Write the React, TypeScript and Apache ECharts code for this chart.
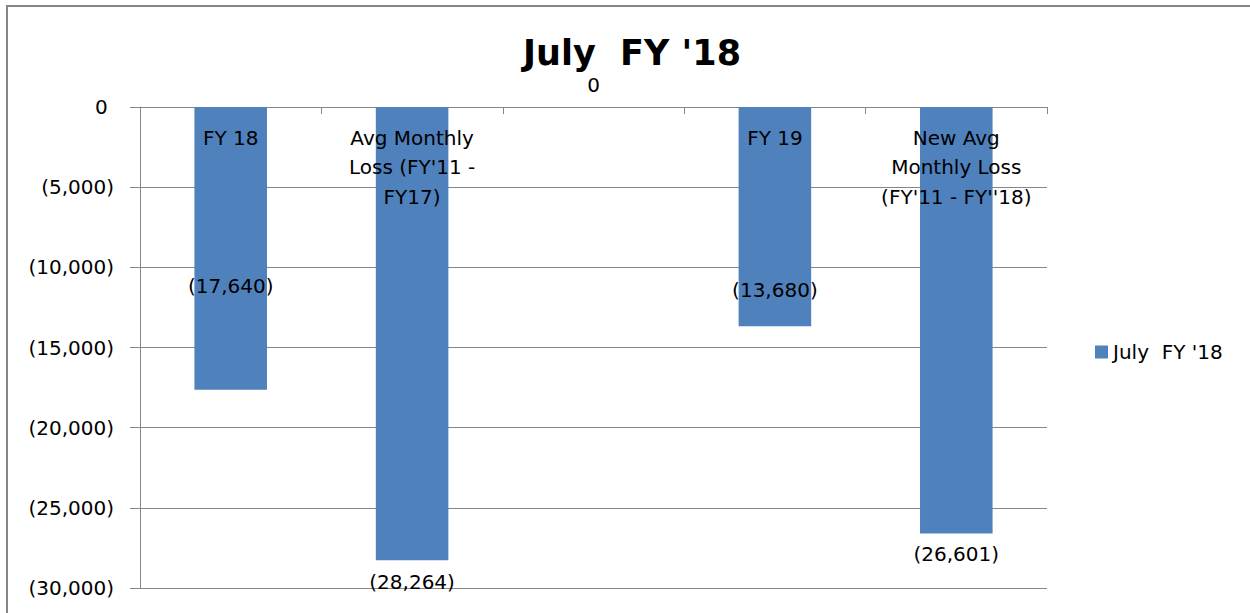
import React, { useEffect, useRef } from "react";
import * as echarts from "echarts";

const seriesName = "July  FY '18";
const categories = ["FY 18", "Avg Monthly\nLoss (FY'11 -\nFY17)", "", "FY 19", "New Avg\nMonthly Loss\n(FY'11 - FY''18)"];
const values = [-17640, -28264, 0, -13680, -26601];
const yTicks = { min: -30000, max: 0, interval: 5000 };

// label placement styling per bar (not data)
const valueLabelStyles: any[] = [
  { position: "inside", offset: [0, 38] },
  { position: "bottom", distance: 12 },
  { position: "top", distance: 12 },
  { position: "inside", offset: [0, 73] },
  { position: "bottom", distance: 10 },
];

const FONT = "DejaVu Sans";
const fmt = (v: number) => (v === 0 ? "0" : v < 0 ? `(${Math.abs(v).toLocaleString("en-US")})` : v.toLocaleString("en-US"));

export default function App() {
  const ref = useRef<HTMLDivElement>(null);
  useEffect(() => {
    document.body.style.margin = "0";
    const chart = echarts.init(ref.current!, null, { renderer: "svg" });
    chart.setOption({
      animation: false,
      backgroundColor: "#fff",
      textStyle: { fontFamily: FONT },
      title: {
        text: seriesName,
        left: 523,
        top: 35,
        padding: 0,
        textStyle: { fontFamily: FONT, fontWeight: "bold", fontSize: 35, lineHeight: 36, color: "#000" },
      },
      legend: {
        data: [seriesName],
        orient: "vertical",
        left: 1090,
        top: 337,
        icon: "rect",
        itemWidth: 13,
        itemHeight: 13,
        itemGap: 6,
        textStyle: { fontFamily: FONT, fontSize: 20, color: "#000" },
      },
      grid: { left: 140, right: 203, top: 107, bottom: 25, containLabel: false },
      xAxis: {
        type: "category",
        data: categories,
        axisLine: { onZero: true, lineStyle: { color: "#868686", width: 1 } },
        axisTick: { show: true, length: 7, lineStyle: { color: "#868686" } },
        axisLabel: { show: false },
        splitLine: { show: false },
      },
      yAxis: {
        type: "value",
        min: yTicks.min,
        max: yTicks.max,
        interval: yTicks.interval,
        axisLine: { show: true, lineStyle: { color: "#868686", width: 1 } },
        axisTick: { show: true, length: 10, lineStyle: { color: "#868686" } },
        axisLabel: {
          formatter: (v: number) => (v === 0 ? "0\u00a0" : fmt(v)),
          fontFamily: FONT,
          fontSize: 20,
          color: "#000",
          margin: 26,
        },
        splitLine: { show: true, lineStyle: { color: "#868686", width: 1 } },
      },
      graphic: [
        {
          type: "rect",
          shape: { x: 7, y: 6, width: 1400, height: 800 },
          style: { fill: "none", stroke: "#868686", lineWidth: 2 },
          silent: true,
          z: 100,
        },
      ],
      series: [
        {
          name: seriesName,
          type: "bar",
          data: values,
          barWidth: "40%",
          itemStyle: { color: "#4F81BD" },
          label: {
            show: true,
            position: "insideTop",
            distance: 16,
            formatter: (p: any) => p.name,
            fontFamily: FONT,
            fontSize: 20,
            lineHeight: 29.5,
            color: "#000",
            align: "center",
          },
          z: 2,
        },
        {
          name: "labels",
          type: "bar",
          data: values.map((v, i) => ({ value: v, label: valueLabelStyles[i] })),
          barWidth: "40%",
          barGap: "-100%",
          itemStyle: { color: "rgba(0,0,0,0)" },
          silent: true,
          label: {
            show: true,
            formatter: (p: any) => fmt(p.value),
            fontFamily: FONT,
            fontSize: 20,
            color: "#000",
          },
          z: 3,
        },
      ],
    });
    return () => chart.dispose();
  }, []);
  return <div ref={ref} style={{ width: 1250, height: 613 }} />;
}
